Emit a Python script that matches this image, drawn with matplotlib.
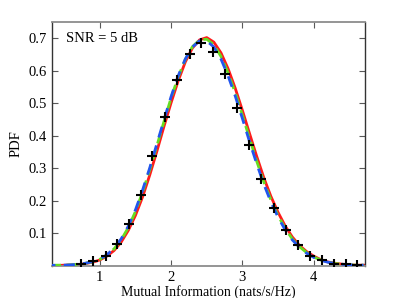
import matplotlib
matplotlib.use("Agg")
import matplotlib.pyplot as plt
import numpy as np

plt.rcParams['font.family'] = ['Liberation Serif', 'DejaVu Serif']
plt.rcParams['mathtext.fontset'] = 'stix'

x_curve = [0.3, 0.4, 0.5, 0.6, 0.7, 0.8, 0.9, 1.0, 1.1, 1.2, 1.3, 1.4, 1.5, 1.6, 1.7, 1.8,
           1.9, 2.0, 2.1, 2.2, 2.3, 2.4, 2.5, 2.6, 2.7, 2.8, 2.9, 3.0, 3.1, 3.2, 3.3, 3.4,
           3.5, 3.6, 3.7, 3.8, 3.9, 4.0, 4.1, 4.2, 4.3, 4.4, 4.5, 4.6, 4.7]
red = [0.000, 0.000, 0.001, 0.002, 0.003, 0.006, 0.010, 0.017, 0.029, 0.046, 0.072, 0.108,
       0.154, 0.211, 0.278, 0.351, 0.428, 0.501, 0.569, 0.627, 0.670, 0.695, 0.702, 0.688,
       0.655, 0.606, 0.546, 0.478, 0.407, 0.337, 0.271, 0.213, 0.164, 0.122, 0.088, 0.062,
       0.043, 0.029, 0.018, 0.011, 0.007, 0.004, 0.002, 0.001, 0.001]
green = [0.000, 0.001, 0.001, 0.002, 0.004, 0.007, 0.011, 0.019, 0.032, 0.051, 0.079, 0.117,
         0.166, 0.226, 0.294, 0.368, 0.443, 0.516, 0.581, 0.635, 0.674, 0.695, 0.697, 0.680,
         0.644, 0.593, 0.532, 0.463, 0.392, 0.322, 0.258, 0.202, 0.154, 0.114, 0.082, 0.058,
         0.040, 0.026, 0.017, 0.010, 0.006, 0.004, 0.002, 0.001, 0.001]
blue = [0.000, 0.001, 0.001, 0.002, 0.004, 0.007, 0.012, 0.020, 0.033, 0.053, 0.082, 0.121,
        0.171, 0.232, 0.300, 0.374, 0.448, 0.520, 0.584, 0.636, 0.673, 0.692, 0.692, 0.673,
        0.636, 0.584, 0.522, 0.453, 0.382, 0.314, 0.251, 0.196, 0.149, 0.110, 0.079, 0.056,
        0.038, 0.025, 0.016, 0.010, 0.006, 0.004, 0.002, 0.001, 0.001]

x_sim = [0.743, 0.906, 1.094, 1.248, 1.41, 1.575, 1.733, 1.912, 2.085, 2.262, 2.426, 2.59,
         2.753, 2.926, 3.094, 3.258, 3.44, 3.61, 3.78, 3.955, 4.12, 4.29, 4.45, 4.61]
y_sim = [0.006, 0.014, 0.030, 0.066, 0.129, 0.216, 0.336, 0.458, 0.572, 0.651, 0.685, 0.657,
         0.589, 0.485, 0.372, 0.266, 0.177, 0.110, 0.062, 0.030, 0.018, 0.006, 0.004, 0.002]

xticks = [1, 2, 3, 4]
yticks = [0.1, 0.2, 0.3, 0.4, 0.5, 0.6, 0.7]

fig = plt.figure(figsize=(4.03, 2.98), dpi=100)
ax = fig.add_axes([52/403, 1 - 265.5/298, 313/403, 243.5/298])

ax.plot(x_curve, red, color='#ff1a1a', lw=2.0, ls='-', zorder=2)
ax.plot(x_curve, green, color='#66dd22', lw=2.0, ls=(0, (4, 2)), zorder=3)
ax.plot(x_curve, blue, color='#2255ee', lw=2.0, ls=(2, (4, 3)), zorder=4)
ax.plot(x_sim, y_sim, ls='none', marker='+', color='black', ms=7.5, mew=1.5, zorder=5)

ax.set_xlim(0.33, 4.72)
ax.set_ylim(0, 0.75)
ax.set_xticks(xticks)
ax.set_yticks(yticks)
ax.set_xticklabels([str(t) for t in xticks])
ax.set_yticklabels([f"{t:.1f}" for t in yticks])
ax.tick_params(direction='in', length=4, width=0.8, top=True, right=True,
               labelsize=10.5, colors='0.35', labelcolor='black', pad=4)

for side in ['left', 'right']:
    ax.spines[side].set_color('0.2')
    ax.spines[side].set_linewidth(1.0)
for side in ['top', 'bottom']:
    ax.spines[side].set_color('0.55')
    ax.spines[side].set_linewidth(1.3)

ax.set_xlabel('Mutual Information (nats/s/Hz)', fontsize=10, labelpad=1)
ax.set_ylabel('PDF', fontsize=10.5, labelpad=4)
ax.text(0.53, 0.70, 'SNR = 5 dB', fontsize=10.5, va='center', ha='left')

fig.savefig('out.png', dpi=100)
